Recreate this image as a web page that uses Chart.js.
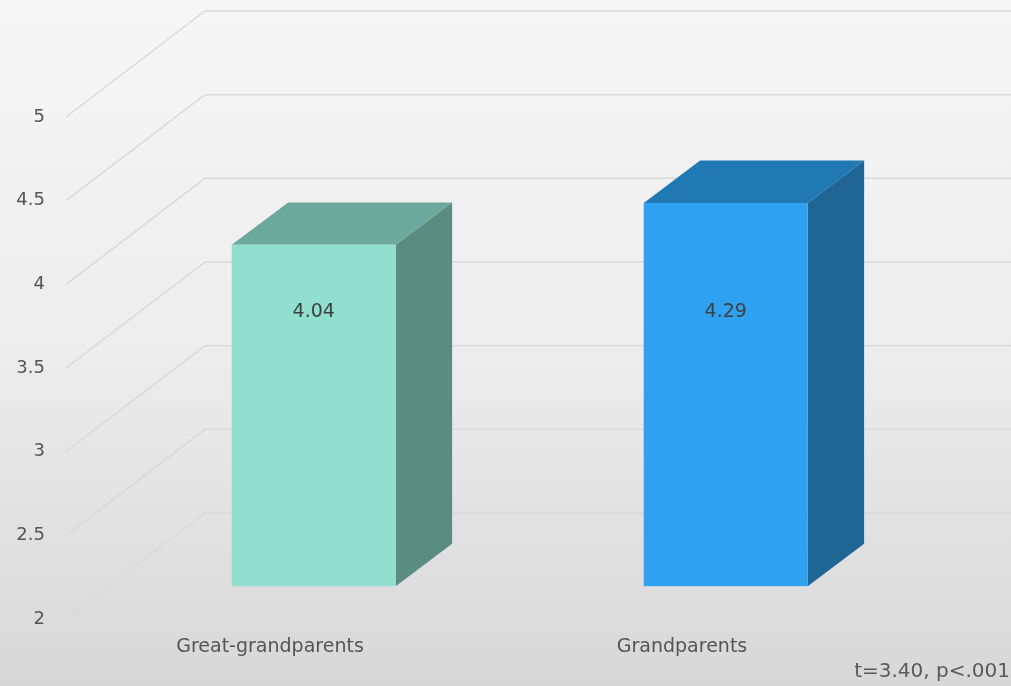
<!DOCTYPE html>
<html>
<head>
<meta charset="utf-8">
<script src="https://cdn.jsdelivr.net/npm/chart.js@4.4.1/dist/chart.umd.min.js"></script>
<style>
  html, body { margin: 0; padding: 0; }
  body { width: 1011px; height: 686px; overflow: hidden; }
</style>
</head>
<body>
<canvas id="grafico" width="1011" height="686"></canvas>
<script>
const categorias = ['Great-grandparents', 'Grandparents']
const medias = [4.04, 4.29]
const ticksY = [2, 2.5, 3, 3.5, 4, 4.5, 5]
const nota = 't=3.40, p<.001'

// colores de cada cara de la columna
const colorFrente = ['#91dfcf', '#2ea2f0']
const colorArriba = ['#6ca99d', '#2179b4']
const colorLado = ['#5a8d80', '#1f6694']

const fuente = "'Century Gothic', 'DejaVu Sans', sans-serif"

// profundidad de la pared del fondo y de las columnas
const PARED_DX = 141
const PARED_DY = -106
const COL_FRENTE = 0.31
const COL_FONDO = 0.4

const ctx = document.getElementById('grafico').getContext('2d')

function poligono(c, puntos, color) {
  c.beginPath()
  c.moveTo(puntos[0][0], puntos[0][1])
  puntos.slice(1).forEach(p => c.lineTo(p[0], p[1]))
  c.closePath()
  c.fillStyle = color
  c.fill()
}

const barras3d = {
  id: 'barras3d',
  beforeDraw(chart) {
    const c = chart.ctx
    const g = c.createLinearGradient(0, 0, 0, chart.height)
    g.addColorStop(0, '#f6f6f6')
    g.addColorStop(0.5, '#ededed')
    g.addColorStop(1, '#d7d7d7')
    c.save()
    c.fillStyle = g
    c.fillRect(0, 0, chart.width, chart.height)
    c.restore()
  },
  beforeDatasetsDraw(chart) {
    const c = chart.ctx
    const area = chart.chartArea
    const y = chart.scales.y
    c.save()
    c.strokeStyle = '#d9d9d9'
    c.lineWidth = 1.5
    y.ticks.forEach(t => {
      const py = y.getPixelForValue(t.value)
      c.beginPath()
      c.moveTo(area.left + 2, py)
      c.lineTo(area.left + PARED_DX, py + PARED_DY)
      c.lineTo(chart.width, py + PARED_DY)
      c.stroke()
    })
    c.restore()
  },
  afterDatasetsDraw(chart) {
    const c = chart.ctx
    const meta = chart.getDatasetMeta(0)
    c.save()
    meta.data.forEach((barra, i) => {
      const { x, y, base, width } = barra.getProps(['x', 'y', 'base', 'width'], true)
      const ox = COL_FRENTE * PARED_DX
      const oy = COL_FRENTE * PARED_DY
      const dx = COL_FONDO * PARED_DX
      const dy = COL_FONDO * PARED_DY
      const l = x - width / 2 + ox
      const r = x + width / 2 + ox
      const t = y + oy
      const b = base + oy
      poligono(c, [[r, t], [r + dx, t + dy], [r + dx, b + dy], [r, b]], colorLado[i])
      poligono(c, [[l, t], [l + dx, t + dy], [r + dx, t + dy], [r, t]], colorArriba[i])
      c.fillStyle = colorFrente[i]
      c.fillRect(l, t, r - l, b - t)

      // etiqueta con el valor
      const ly = chart.scales.y.getPixelForValue(3.64) + oy
      c.fillStyle = '#404040'
      c.font = '19px ' + fuente
      c.textAlign = 'center'
      c.textBaseline = 'middle'
      c.fillText(medias[i].toFixed(2), x + ox, ly)
    })
    c.restore()
  },
  afterDraw(chart) {
    const c = chart.ctx
    c.save()
    c.fillStyle = '#595959'
    c.font = '20px ' + fuente
    c.textAlign = 'right'
    c.textBaseline = 'alphabetic'
    c.fillText(nota, chart.width - 1, 677)
    c.restore()
  }
}

const grafico = new Chart(ctx, {
  type: 'bar',
  data: {
    labels: categorias,
    datasets: [{
      data: medias,
      base: 2,
      backgroundColor: 'rgba(0,0,0,0)',
      categoryPercentage: 1,
      barPercentage: 0.398
    }]
  },
  options: {
    responsive: false,
    animation: false,
    devicePixelRatio: 1,
    layout: { padding: { top: 117, right: 123, left: 0, bottom: 0 } },
    plugins: {
      legend: { display: false },
      tooltip: { enabled: false }
    },
    scales: {
      x: {
        grid: { display: false, drawTicks: false },
        border: { display: false },
        ticks: { color: '#555555', font: { family: fuente, size: 19 }, padding: 17, maxRotation: 0 },
        afterFit(s) { s.height = 67 }
      },
      y: {
        min: 2,
        max: 5,
        afterBuildTicks(s) { s.ticks = ticksY.map(v => ({ value: v })) },
        grid: { display: false, drawTicks: false },
        border: { display: false },
        ticks: {
          color: '#555555',
          font: { family: fuente, size: 18 },
          padding: 19,
          callback: v => String(v)
        },
        afterFit(s) { s.width = 64 }
      }
    }
  },
  plugins: [barras3d]
})
</script>
</body>
</html>
